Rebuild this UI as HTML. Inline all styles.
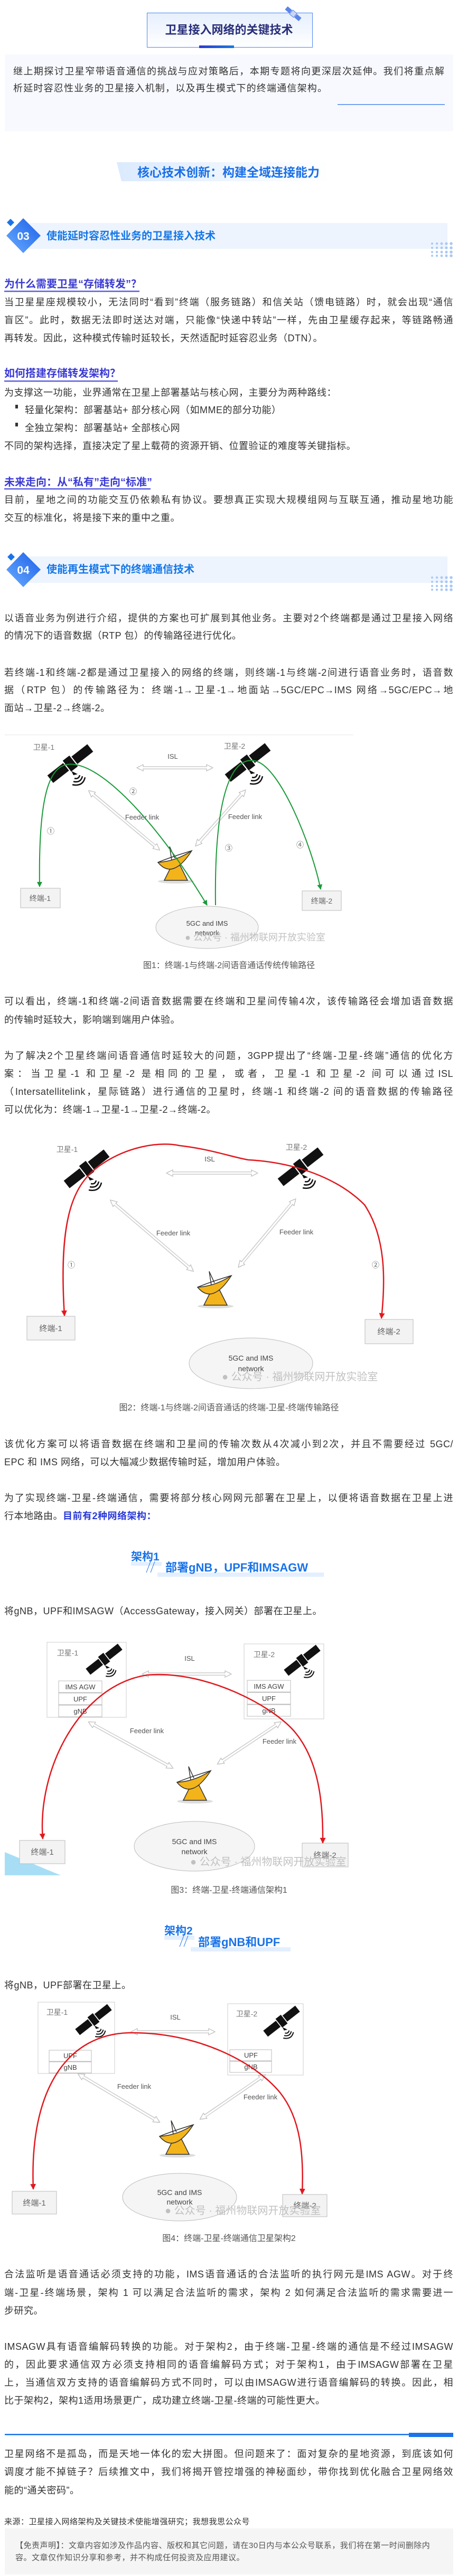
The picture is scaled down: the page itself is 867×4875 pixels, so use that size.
<!DOCTYPE html>
<html><head><meta charset="utf-8">
<style>
*{margin:0;padding:0;box-sizing:border-box}
body{width:867px;height:4875px;position:relative;background:#fff;font-family:"Liberation Sans","Noto Sans CJK SC",sans-serif;color:#333;overflow:hidden}
.l{position:absolute;left:8px;width:850px;height:34px;line-height:34px;font-size:18px;letter-spacing:.5px;white-space:nowrap}
.j{text-align:justify;text-align-last:justify}
.sub{position:absolute;left:8px;font-weight:bold;font-size:20px;color:#3b3bd4;height:30px;line-height:30px;white-space:nowrap}
.cap{position:absolute;left:0;width:867px;text-align:center;font-size:16px;color:#555;height:24px;line-height:24px}
.bt{position:absolute;font-weight:bold;color:#1a73e8;white-space:nowrap}
svg text{font-family:"Liberation Sans","Noto Sans CJK SC",sans-serif}
</style></head><body>
<svg width="867" height="4875" style="position:absolute;left:0;top:0">
<defs>
<linearGradient id="tb" x1="0" y1="0" x2="0" y2="1"><stop offset="0" stop-color="#e6effd"/><stop offset="1" stop-color="#fff"/></linearGradient>
<linearGradient id="bar" x1="0" y1="0" x2="1" y2="0"><stop offset="0" stop-color="#2a3ad0"/><stop offset="1" stop-color="#1a7ae0"/></linearGradient>
<linearGradient id="dm" x1="0" y1="1" x2="1" y2="0"><stop offset="0" stop-color="#6aaeff"/><stop offset="1" stop-color="#1d5fe8"/></linearGradient>
<linearGradient id="hb" x1="0" y1="0" x2="1" y2="0"><stop offset="0" stop-color="#dbeafe"/><stop offset="1" stop-color="#ffffff"/></linearGradient>
<marker id="ha" viewBox="0 0 14 14" refX="10" refY="7" markerWidth="14" markerHeight="14" orient="auto-start-reverse" markerUnits="userSpaceOnUse"><path d="M1 1 L13 7 L1 13 Z" fill="#fff" stroke="#bbb" stroke-width="1.2"/></marker>
<marker id="ga" viewBox="0 0 10 10" refX="9" refY="5" markerWidth="10" markerHeight="10" orient="auto-start-reverse" markerUnits="userSpaceOnUse"><path d="M0 0 L10 5 L0 10 Z" fill="#1a9a3a"/></marker>
<marker id="ra" viewBox="0 0 10 10" refX="9" refY="5" markerWidth="11" markerHeight="11" orient="auto-start-reverse" markerUnits="userSpaceOnUse"><path d="M0 0 L10 5 L0 10 Z" fill="#e0181e"/></marker>
<g id="sat">
<g transform="rotate(-38)"><rect x="-48" y="-9" width="96" height="18" fill="#111"/><rect x="-9" y="-14" width="18" height="28" fill="#111" stroke="#fff" stroke-width="2"/></g>
<path d="M2 14 l4 8 l8 -2z" fill="#111"/>
<path d="M8 28 q8 2 10 -6" stroke="#111" stroke-width="2.5" fill="none"/>
<path d="M6 34 q14 3 17 -10" stroke="#111" stroke-width="2.5" fill="none"/>
<path d="M4 40 q20 4 24 -14" stroke="#111" stroke-width="2.5" fill="none"/>
</g>
<g id="dish">
<ellipse cx="0" cy="36" rx="34" ry="4" fill="#ddd"/>
<path d="M-8 6 L-22 34 L22 34 L8 6Z" fill="#f3b41b" stroke="#333" stroke-width="1.5"/>
<path d="M-34 0 Q-6 34 30 -22 Z" fill="#f3b41b" stroke="#333" stroke-width="1.5"/>
<path d="M-34 0 Q-10 -10 30 -22 Q0 -2 -34 0Z" fill="#fff" stroke="#333" stroke-width="1.5"/>
<path d="M-2 -8 L-12 -30 M-12 -30 L-8 -4" stroke="#333" stroke-width="1.5"/>
</g>
</defs>

<!-- title box -->
<rect x="278.5" y="24.5" width="313" height="65" fill="url(#tb)" stroke="#4a86f0"/>
<rect x="377" y="86" width="66" height="5" fill="url(#bar)"/>
<g transform="translate(555,26) rotate(40)"><rect x="-17" y="-4" width="11" height="8" fill="#5b84e8"/><rect x="6" y="-4" width="11" height="8" fill="#5b84e8"/><rect x="-5" y="-5" width="10" height="10" fill="#c8d6f8" stroke="#5b84e8"/></g>
<!-- intro box -->
<rect x="9" y="103" width="849" height="145" fill="#f8f9fe"/>
<rect x="639" y="197" width="203" height="1.5" fill="#4a86f0"/>
<!-- core heading bg -->
<polygon points="221,307 625,307 625,343 230,343" fill="url(#hb)"/>

<!-- banner 03 -->
<rect x="55" y="422" width="792" height="49" fill="#edf4fe"/>
<polygon points="44,413 77,446 44,479 12,446" fill="url(#dm)"/>
<polygon points="20,414 27,421 20,428 13,421" fill="#1a73e8"/>
<g fill="#a9c8f5">
<circle cx="818" cy="461" r="2"/><circle cx="827" cy="461" r="2.2"/><circle cx="836" cy="461" r="2.4"/><circle cx="845" cy="461" r="2.6"/><circle cx="854" cy="461" r="2.8"/>
<circle cx="818" cy="469" r="2"/><circle cx="827" cy="469" r="2.2"/><circle cx="836" cy="469" r="2.4"/><circle cx="845" cy="469" r="2.6"/><circle cx="854" cy="469" r="2.8"/>
<circle cx="818" cy="477" r="2"/><circle cx="827" cy="477" r="2.2"/><circle cx="836" cy="477" r="2.4"/><circle cx="845" cy="477" r="2.6"/><circle cx="854" cy="477" r="2.8"/>
<circle cx="818" cy="484" r="2"/><circle cx="827" cy="484" r="2.2"/><circle cx="836" cy="484" r="2.4"/><circle cx="845" cy="484" r="2.6"/><circle cx="854" cy="484" r="2.8"/>
</g>
<text x="44" y="454" text-anchor="middle" font-size="21" font-weight="bold" fill="#fff">03</text>
<!-- sub underlines -->
<rect x="8" y="550" width="256" height="2.5" fill="#5b5fe0"/>
<rect x="8" y="720" width="215" height="2.5" fill="#5b5fe0"/>
<rect x="8" y="924" width="277" height="2.5" fill="#5b5fe0"/>
<rect x="29" y="800" width="5" height="7" fill="#333"/>
<rect x="29" y="766" width="5" height="7" fill="#333"/>
<rect x="29" y="800" width="5" height="7" fill="#333"/>

<!-- banner 04 -->
<rect x="55" y="1053" width="792" height="50" fill="#edf4fe"/>
<polygon points="44,1045 77,1078 44,1111 12,1078" fill="url(#dm)"/>
<polygon points="21,1047 28,1054 21,1061 14,1054" fill="#1a73e8"/>
<g fill="#a9c8f5">
<circle cx="818" cy="1093" r="2"/><circle cx="827" cy="1093" r="2.2"/><circle cx="836" cy="1093" r="2.4"/><circle cx="845" cy="1093" r="2.6"/><circle cx="854" cy="1093" r="2.8"/>
<circle cx="818" cy="1101" r="2"/><circle cx="827" cy="1101" r="2.2"/><circle cx="836" cy="1101" r="2.4"/><circle cx="845" cy="1101" r="2.6"/><circle cx="854" cy="1101" r="2.8"/>
<circle cx="818" cy="1109" r="2"/><circle cx="827" cy="1109" r="2.2"/><circle cx="836" cy="1109" r="2.4"/><circle cx="845" cy="1109" r="2.6"/><circle cx="854" cy="1109" r="2.8"/>
<circle cx="818" cy="1116" r="2"/><circle cx="827" cy="1116" r="2.2"/><circle cx="836" cy="1116" r="2.4"/><circle cx="845" cy="1116" r="2.6"/><circle cx="854" cy="1116" r="2.8"/>
</g>
<text x="44" y="1086" text-anchor="middle" font-size="21" font-weight="bold" fill="#fff">04</text>

<!-- FIGURE 1 -->
<rect x="9" y="1390" width="660" height="1.5" fill="#eee"/>
<g font-size="14" fill="#777">
<text x="83" y="1419" text-anchor="middle">卫星-1</text>
<text x="444" y="1417" text-anchor="middle">卫星-2</text>
<text x="327" y="1436" text-anchor="middle" fill="#555" font-size="13">ISL</text>
<text x="269" y="1551" text-anchor="middle" fill="#555" font-size="13">Feeder link</text>
<text x="464" y="1550" text-anchor="middle" fill="#555" font-size="13">Feeder link</text>
</g>
<use href="#sat" x="133" y="1445"/>
<use href="#sat" x="469" y="1443"/>
<line x1="262" y1="1453" x2="400" y2="1453" stroke="#ccc" stroke-width="6" marker-start="url(#ha)" marker-end="url(#ha)"/><line x1="264" y1="1453" x2="398" y2="1453" stroke="#fff" stroke-width="3"/>
<line x1="170" y1="1498" x2="300" y2="1607" stroke="#ccc" stroke-width="6" marker-start="url(#ha)" marker-end="url(#ha)"/><line x1="172" y1="1500" x2="298" y2="1605" stroke="#fff" stroke-width="3"/>
<line x1="463" y1="1497" x2="372" y2="1599" stroke="#ccc" stroke-width="6" marker-start="url(#ha)" marker-end="url(#ha)"/><line x1="461" y1="1499" x2="374" y2="1597" stroke="#fff" stroke-width="3"/>
<use href="#dish" x="333" y="1632"/>
<rect x="39" y="1681" width="75" height="37" fill="#f3f3f3" stroke="#bbb"/>
<text x="76" y="1705" text-anchor="middle" font-size="14" fill="#666">终端-1</text>
<rect x="572" y="1686" width="74" height="37" fill="#f3f3f3" stroke="#bbb"/>
<text x="609" y="1710" text-anchor="middle" font-size="14" fill="#666">终端-2</text>
<ellipse cx="392" cy="1755" rx="97" ry="40" fill="#f5f5f5" stroke="#bbb"/>
<text x="392" y="1752" text-anchor="middle" font-size="13" fill="#444">5GC and IMS</text>
<text x="392" y="1770" text-anchor="middle" font-size="13" fill="#444">network</text>
<path d="M75 1678 C72 1480 100 1440 142 1447 C200 1455 300 1560 392 1713" fill="none" stroke="#1a9a3a" stroke-width="2" marker-start="url(#ga)" marker-end="url(#ga)"/>
<path d="M408 1713 C405 1500 440 1430 483 1440 C530 1450 590 1600 607 1683" fill="none" stroke="#1a9a3a" stroke-width="2" marker-end="url(#ga)"/>
<g font-size="14" fill="#666" text-anchor="middle"><text x="96" y="1578">①</text><text x="252" y="1503">②</text><text x="433" y="1610">③</text><text x="568" y="1604">④</text></g>
<text x="350" y="1780" font-size="18" fill="#bbb" opacity=".9">● 公众号 · 福州物联网开放实验室</text>

<!-- FIGURE 2 -->
<g font-size="14" fill="#777">
<text x="127" y="2180" text-anchor="middle">卫星-1</text>
<text x="561" y="2176" text-anchor="middle">卫星-2</text>
<text x="397" y="2198" text-anchor="middle" fill="#555" font-size="13">ISL</text>
<text x="328" y="2338" text-anchor="middle" fill="#555" font-size="13">Feeder link</text>
<text x="561" y="2336" text-anchor="middle" fill="#555" font-size="13">Feeder link</text>
</g>
<use href="#sat" x="164" y="2212"/>
<use href="#sat" x="569" y="2208"/>
<line x1="318" y1="2220" x2="485" y2="2220" stroke="#ccc" stroke-width="6" marker-start="url(#ha)" marker-end="url(#ha)"/><line x1="320" y1="2220" x2="483" y2="2220" stroke="#fff" stroke-width="3"/>
<line x1="211" y1="2273" x2="364" y2="2404" stroke="#ccc" stroke-width="6" marker-start="url(#ha)" marker-end="url(#ha)"/><line x1="213" y1="2275" x2="362" y2="2402" stroke="#fff" stroke-width="3"/>
<line x1="558" y1="2271" x2="453" y2="2396" stroke="#ccc" stroke-width="6" marker-start="url(#ha)" marker-end="url(#ha)"/><line x1="556" y1="2273" x2="455" y2="2394" stroke="#fff" stroke-width="3"/>
<use href="#dish" x="408" y="2436"/>
<rect x="51" y="2491" width="91" height="45" fill="#f3f3f3" stroke="#bbb"/>
<text x="96" y="2519" text-anchor="middle" font-size="15" fill="#666">终端-1</text>
<rect x="691" y="2497" width="91" height="46" fill="#f3f3f3" stroke="#bbb"/>
<text x="736" y="2525" text-anchor="middle" font-size="15" fill="#666">终端-2</text>
<ellipse cx="475" cy="2580" rx="117" ry="48" fill="#f5f5f5" stroke="#bbb"/>
<text x="475" y="2575" text-anchor="middle" font-size="14" fill="#444">5GC and IMS</text>
<text x="475" y="2595" text-anchor="middle" font-size="14" fill="#444">network</text>
<path d="M122 2490 C110 2300 140 2240 190 2205 C240 2170 300 2160 340 2168 C400 2175 440 2190 470 2195 C560 2200 640 2230 690 2280 C730 2340 730 2420 722 2495" fill="none" stroke="#e0181e" stroke-width="2.5" marker-start="url(#ra)" marker-end="url(#ra)"/>
<g font-size="14" fill="#666" text-anchor="middle"><text x="135" y="2399">①</text><text x="711" y="2399">②</text></g>
<text x="420" y="2612" font-size="20" fill="#bbb" opacity=".9">● 公众号 · 福州物联网开放实验室</text>

<!-- 架构 tags bg -->
<rect x="248" y="2956" width="58" height="7" fill="#e3efff"/>
<rect x="298" y="2976" width="315" height="8" fill="#e3efff"/>
<path d="M285 2955 L277 2976 M293 2955 L285 2976" stroke="#1a73e8" stroke-width="1"/>
<rect x="311" y="3663" width="57" height="8" fill="#e3efff"/>
<rect x="361" y="3685" width="189" height="8" fill="#e3efff"/>
<path d="M348 3663 L340 3684 M356 3663 L348 3684" stroke="#1a73e8" stroke-width="1"/>

<!-- FIGURE 3 -->
<rect x="89" y="3108" width="150" height="142" fill="#fff" stroke="#ccc"/>
<rect x="462" y="3111" width="151" height="142" fill="#fff" stroke="#ccc"/>
<g font-size="14" fill="#777">
<text x="128" y="3133" text-anchor="middle">卫星-1</text>
<text x="500" y="3136" text-anchor="middle">卫星-2</text>
<text x="359" y="3143" text-anchor="middle" fill="#555" font-size="13">ISL</text>
<text x="278" y="3280" text-anchor="middle" fill="#555" font-size="13">Feeder link</text>
<text x="529" y="3300" text-anchor="middle" fill="#555" font-size="13">Feeder link</text>
</g>
<g transform="translate(197,3140) scale(.8)"><use href="#sat"/></g>
<g transform="translate(572,3142) scale(.8)"><use href="#sat"/></g>
<g fill="#fff" stroke="#bbb">
<rect x="111" y="3181" width="82" height="22"/><rect x="111" y="3204" width="82" height="22"/><rect x="111" y="3227" width="82" height="22"/>
<rect x="468" y="3180" width="82" height="22"/><rect x="468" y="3203" width="82" height="22"/><rect x="468" y="3226" width="82" height="22"/>
</g>
<g font-size="13" fill="#444" text-anchor="middle">
<text x="152" y="3197">IMS AGW</text><text x="152" y="3220">UPF</text><text x="152" y="3243">gNB</text>
<text x="509" y="3196">IMS AGW</text><text x="509" y="3219">UPF</text><text x="509" y="3242">gNB</text>
</g>
<line x1="272" y1="3168" x2="435" y2="3168" stroke="#ccc" stroke-width="6" marker-start="url(#ha)" marker-end="url(#ha)"/><line x1="274" y1="3168" x2="433" y2="3168" stroke="#fff" stroke-width="3"/>
<line x1="170" y1="3260" x2="325" y2="3345" stroke="#ccc" stroke-width="6" marker-start="url(#ha)" marker-end="url(#ha)"/><line x1="172" y1="3261" x2="323" y2="3344" stroke="#fff" stroke-width="3"/>
<line x1="530" y1="3260" x2="414" y2="3337" stroke="#ccc" stroke-width="6" marker-start="url(#ha)" marker-end="url(#ha)"/><line x1="528" y1="3261" x2="416" y2="3336" stroke="#fff" stroke-width="3"/>
<use href="#dish" x="369" y="3373"/>
<polygon points="9,3505 9,3549 115,3549" fill="#a8def5"/>
<rect x="37" y="3483" width="86" height="44" fill="#f3f3f3" stroke="#bbb"/>
<text x="80" y="3510" text-anchor="middle" font-size="15" fill="#666">终端-1</text>
<rect x="572" y="3488" width="87" height="45" fill="#f3f3f3" stroke="#bbb"/>
<text x="615" y="3516" text-anchor="middle" font-size="15" fill="#666">终端-2</text>
<ellipse cx="368" cy="3494" rx="114" ry="47" fill="#f5f5f5" stroke="#bbb"/>
<text x="368" y="3490" text-anchor="middle" font-size="14" fill="#444">5GC and IMS</text>
<text x="368" y="3509" text-anchor="middle" font-size="14" fill="#444">network</text>
<path d="M81 3480 C70 3350 150 3190 278 3170 C390 3160 520 3230 560 3280 C600 3330 612 3400 611 3488" fill="none" stroke="#e0181e" stroke-width="2.5" marker-start="url(#ra)" marker-end="url(#ra)"/>
<text x="360" y="3530" font-size="20" fill="#bbb" opacity=".9">● 公众号 · 福州物联网开放实验室</text>

<!-- FIGURE 4 -->
<rect x="72" y="3789" width="145" height="135" fill="#fff" stroke="#ccc"/>
<rect x="431" y="3792" width="143" height="135" fill="#fff" stroke="#ccc"/>
<g font-size="14" fill="#777">
<text x="108" y="3813" text-anchor="middle">卫星-1</text>
<text x="467" y="3816" text-anchor="middle">卫星-2</text>
<text x="332" y="3822" text-anchor="middle" fill="#555" font-size="13">ISL</text>
<text x="254" y="3953" text-anchor="middle" fill="#555" font-size="13">Feeder link</text>
<text x="493" y="3973" text-anchor="middle" fill="#555" font-size="13">Feeder link</text>
</g>
<g transform="translate(177,3822) scale(.8)"><use href="#sat"/></g>
<g transform="translate(533,3825) scale(.8)"><use href="#sat"/></g>
<g fill="#fff" stroke="#bbb">
<rect x="93" y="3880" width="80" height="21"/><rect x="93" y="3902" width="80" height="21"/>
<rect x="435" y="3879" width="79" height="21"/><rect x="435" y="3901" width="79" height="21"/>
</g>
<g font-size="13" fill="#444" text-anchor="middle">
<text x="133" y="3895">UPF</text><text x="133" y="3917">gNB</text>
<text x="475" y="3894">UPF</text><text x="475" y="3916">gNB</text>
</g>
<line x1="251" y1="3845" x2="404" y2="3845" stroke="#ccc" stroke-width="6" marker-start="url(#ha)" marker-end="url(#ha)"/><line x1="253" y1="3845" x2="402" y2="3845" stroke="#fff" stroke-width="3"/>
<line x1="150" y1="3926" x2="300" y2="4015" stroke="#ccc" stroke-width="6" marker-start="url(#ha)" marker-end="url(#ha)"/><line x1="152" y1="3927" x2="298" y2="4014" stroke="#fff" stroke-width="3"/>
<line x1="500" y1="3928" x2="381" y2="4009" stroke="#ccc" stroke-width="6" marker-start="url(#ha)" marker-end="url(#ha)"/><line x1="498" y1="3929" x2="383" y2="4008" stroke="#fff" stroke-width="3"/>
<use href="#dish" x="336" y="4043"/>
<rect x="23" y="4147" width="84" height="43" fill="#f3f3f3" stroke="#bbb"/>
<text x="65" y="4174" text-anchor="middle" font-size="15" fill="#666">终端-1</text>
<rect x="535" y="4153" width="84" height="42" fill="#f3f3f3" stroke="#bbb"/>
<text x="577" y="4179" text-anchor="middle" font-size="15" fill="#666">终端-2</text>
<ellipse cx="340" cy="4158" rx="108" ry="45" fill="#f5f5f5" stroke="#bbb"/>
<text x="340" y="4154" text-anchor="middle" font-size="14" fill="#444">5GC and IMS</text>
<text x="340" y="4172" text-anchor="middle" font-size="14" fill="#444">network</text>
<path d="M63 4143 C55 3950 130 3850 244 3847 C370 3845 480 3900 530 3960 C570 4010 575 4080 572 4152" fill="none" stroke="#e0181e" stroke-width="2.5" marker-start="url(#ra)" marker-end="url(#ra)"/>
<text x="312" y="4190" font-size="20" fill="#bbb" opacity=".9">● 公众号 · 福州物联网开放实验室</text>

<!-- rule -->
<rect x="9" y="4606" width="849" height="2.5" fill="#1a73e8"/>
<rect x="774" y="4604" width="84" height="8" fill="#1a73e8"/>
<rect x="9" y="4785" width="849" height="87" fill="#f5f5f5"/>
</svg>

<div style="position:absolute;left:0;width:867px;top:43px;text-align:center;font-size:22px;font-weight:bold;color:#2a2f7a;line-height:28px">卫星接入网络的关键技术</div>
<div class="l j" style="left:25px;width:817px;top:118px;letter-spacing:1px">继上期探讨卫星窄带语音通信的挑战与应对策略后，本期专题将向更深层次延伸。我们将重点解</div>
<div class="l" style="left:25px;width:817px;top:150px;letter-spacing:1.2px">析延时容忍性业务的卫星接入机制，以及再生模式下的终端通信架构。</div>
<div class="bt" style="left:260px;top:310px;font-size:23px;line-height:32px;color:#1a6fe8">核心技术创新：构建全域连接能力</div>

<div class="bt" style="left:88px;top:432px;font-size:20px;line-height:30px;color:#1677e6">使能延时容忍性业务的卫星接入技术</div>
<div class="sub" style="top:523px">为什么需要卫星“存储转发”？</div>
<div class="l j" style="top:555px">当卫星星座规模较小，无法同时“看到”终端（服务链路）和信关站（馈电链路）时，就会出现“通信</div>
<div class="l j" style="top:589px">盲区”。此时，数据无法即时送达对端，只能像“快递中转站”一样，先由卫星缓存起来，等链路畅通</div>
<div class="l" style="top:623px">再转发。因此，这种模式传输时延较长，天然适配时延容忍业务（DTN）。</div>
<div class="sub" style="top:692px">如何搭建存储转发架构？</div>
<div class="l" style="top:726px">为支撑这一功能，业界通常在卫星上部署基站与核心网，主要分为两种路线：</div>
<div class="l" style="top:759px;left:47px;width:800px">轻量化架构：部署基站+ 部分核心网（如MME的部分功能）</div>
<div class="l" style="top:793px;left:47px;width:800px">全独立架构：部署基站+ 全部核心网</div>
<div class="l" style="top:827px">不同的架构选择，直接决定了星上载荷的资源开销、位置验证的难度等关键指标。</div>
<div class="sub" style="top:898px">未来走向：从“私有”走向“标准”</div>
<div class="l j" style="top:929px">目前，星地之间的功能交互仍依赖私有协议。要想真正实现大规模组网与互联互通，推动星地功能</div>
<div class="l" style="top:963px">交互的标准化，将是接下来的重中之重。</div>

<div class="bt" style="left:88px;top:1063px;font-size:20px;line-height:30px;color:#1677e6">使能再生模式下的终端通信技术</div>
<div class="l j" style="top:1153px">以语音业务为例进行介绍，提供的方案也可扩展到其他业务。主要对2个终端都是通过卫星接入网络</div>
<div class="l" style="top:1186px">的情况下的语音数据（RTP 包）的传输路径进行优化。</div>
<div class="l j" style="top:1256px">若终端-1和终端-2都是通过卫星接入的网络的终端，则终端-1与终端-2间进行语音业务时，语音数</div>
<div class="l j" style="top:1289px">据（RTP 包）的传输路径为：终端-1→卫星-1→地面站→5GC/EPC→IMS 网络→5GC/EPC→地</div>
<div class="l" style="top:1323px">面站→卫星-2→终端-2。</div>
<div class="cap" style="top:1816px">图1：终端-1与终端-2间语音通话传统传输路径</div>
<div class="l j" style="top:1878px">可以看出，终端-1和终端-2间语音数据需要在终端和卫星间传输4次，该传输路径会增加语音数据</div>
<div class="l" style="top:1913px">的传输时延较大，影响端到端用户体验。</div>
<div class="l j" style="top:1981px">为了解决2个卫星终端间语音通信时延较大的问题，3GPP提出了“终端-卫星-终端”通信的优化方</div>
<div class="l j" style="top:2015px">案：当卫星-1 和卫星-2 是相同的卫星，或者，卫星-1 和卫星-2 间可以通过ISL</div>
<div class="l j" style="top:2049px">（Intersatellitelink，星际链路）进行通信的卫星时，终端-1 和终端-2 间的语音数据的传输路径</div>
<div class="l" style="top:2083px">可以优化为：终端-1→卫星-1→卫星-2→终端-2。</div>
<div class="cap" style="top:2653px">图2：终端-1与终端-2间语音通话的终端-卫星-终端传输路径</div>
<div class="l j" style="top:2716px">该优化方案可以将语音数据在终端和卫星间的传输次数从4次减小到2次，并且不需要经过 5GC/</div>
<div class="l" style="top:2750px">EPC 和 IMS 网络，可以大幅减少数据传输时延，增加用户体验。</div>
<div class="l j" style="top:2818px">为了实现终端-卫星-终端通信，需要将部分核心网网元部署在卫星上，以便将语音数据在卫星上进</div>
<div class="l" style="top:2852px">行本地路由。<b style="color:#2a3ad8">目前有2种网络架构：</b></div>
<div class="bt" style="left:248px;top:2933px;font-size:21px;line-height:28px">架构1</div>
<div class="bt" style="left:313px;top:2953px;font-size:22px;line-height:28px">部署gNB，UPF和IMSAGW</div>
<div class="l" style="top:3032px">将gNB，UPF和IMSAGW（AccessGateway，接入网关）部署在卫星上。</div>
<div class="cap" style="top:3566px">图3：终端-卫星-终端通信架构1</div>
<div class="bt" style="left:311px;top:3641px;font-size:21px;line-height:28px">架构2</div>
<div class="bt" style="left:375px;top:3662px;font-size:22px;line-height:28px">部署gNB和UPF</div>
<div class="l" style="top:3740px">将gNB，UPF部署在卫星上。</div>
<div class="cap" style="top:4225px">图4：终端-卫星-终端通信卫星架构2</div>
<div class="l j" style="top:4287px">合法监听是语音通话必须支持的功能，IMS语音通话的合法监听的执行网元是IMS AGW。对于终</div>
<div class="l j" style="top:4322px">端-卫星-终端场景，架构 1 可以满足合法监听的需求，架构 2 如何满足合法监听的需求需要进一</div>
<div class="l" style="top:4356px">步研究。</div>
<div class="l j" style="top:4424px">IMSAGW具有语音编解码转换的功能。对于架构2，由于终端-卫星-终端的通信是不经过IMSAGW</div>
<div class="l j" style="top:4458px">的，因此要求通信双方必须支持相同的语音编解码方式；对于架构1，由于IMSAGW部署在卫星</div>
<div class="l j" style="top:4492px">上，当通信双方支持的语音编解码方式不同时，可以由IMSAGW进行语音编解码的转换。因此，相</div>
<div class="l" style="top:4526px">比于架构2，架构1适用场景更广，成功建立终端-卫星-终端的可能性更大。</div>
<div class="l j" style="top:4627px">卫星网络不是孤岛，而是天地一体化的宏大拼图。但问题来了：面对复杂的星地资源，到底该如何</div>
<div class="l j" style="top:4661px">调度才能不掉链子？后续推文中，我们将揭开管控增强的神秘面纱，带你找到优化融合卫星网络效</div>
<div class="l" style="top:4696px">能的“通关密码”。</div>
<div class="l" style="top:4761px;font-size:15px;height:24px;line-height:24px">来源：卫星接入网络架构及关键技术使能增强研究；我想我思公众号</div>
<div class="l" style="left:29px;width:815px;top:4806px;font-size:15px;height:23px;line-height:23px;color:#555;white-space:normal">【免责声明】：文章内容如涉及作品内容、版权和其它问题，请在30日内与本公众号联系，我们将在第一时间删除内容。文章仅作知识分享和参考，并不构成任何投资及应用建议。</div>
</body></html>
